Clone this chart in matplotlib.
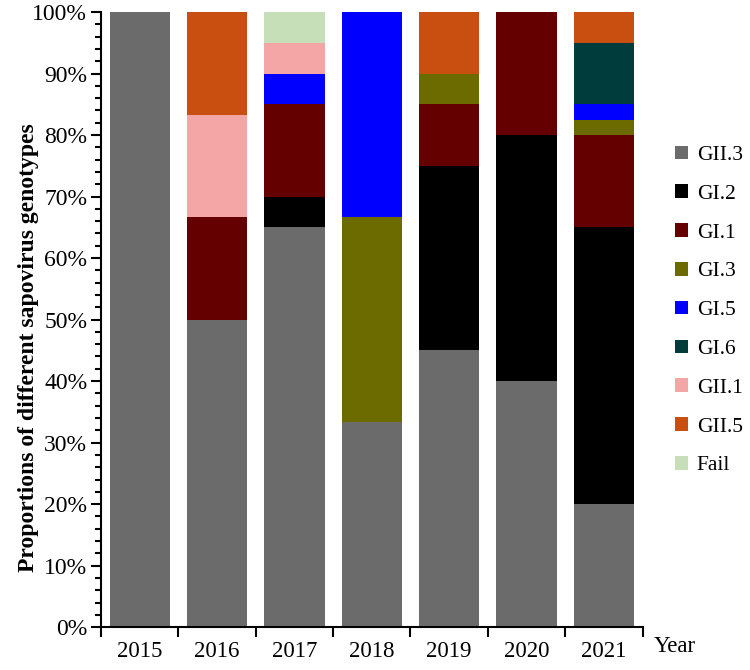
import matplotlib
matplotlib.use("Agg")
import matplotlib.pyplot as plt
from matplotlib.ticker import MultipleLocator, FuncFormatter
from matplotlib.patches import Patch
import numpy as np

plt.rcParams['font.family'] = ['Liberation Serif', 'DejaVu Serif']

years = ["2015", "2016", "2017", "2018", "2019", "2020", "2021"]
genotypes = ["GII.3", "GI.2", "GI.1", "GI.3", "GI.5", "GI.6", "GII.1", "GII.5", "Fail"]
colors = ["#6b6b6b", "#000000", "#640000", "#6b6b00", "#0000ff", "#003c3c", "#f4a6a6", "#c84f10", "#c6dfb8"]

gii3 = [100, 50, 65, 33.33, 45, 40, 20]
gi2 = [0, 0, 5, 0, 30, 40, 45]
gi1 = [0, 16.67, 15, 0, 10, 20, 15]
gi3 = [0, 0, 0, 33.33, 5, 0, 2.5]
gi5 = [0, 0, 5, 33.34, 0, 0, 2.5]
gi6 = [0, 0, 0, 0, 0, 0, 10]
gii1 = [0, 16.67, 5, 0, 0, 0, 0]
gii5 = [0, 16.66, 0, 0, 10, 0, 5]
fail = [0, 0, 5, 0, 0, 0, 0]
series = [gii3, gi2, gi1, gi3, gi5, gi6, gii1, gii5, fail]

fig = plt.figure(figsize=(7.5, 6.7), dpi=100)
ax = fig.add_axes([0.1347, 0.064, 0.722, 0.918])

x = np.arange(len(years))
bottom = np.zeros(len(years))
for vals, c in zip(series, colors):
    v = np.array(vals, dtype=float)
    ax.bar(x, v, bottom=bottom, width=0.78, color=c, edgecolor='none')
    bottom += v

ax.set_xlim(-0.5, len(years) - 0.5)
ax.set_ylim(0, 100)
ax.spines['top'].set_visible(False)
ax.spines['right'].set_visible(False)
ax.spines['left'].set_linewidth(1.5)
ax.spines['bottom'].set_linewidth(1.5)

ax.yaxis.set_major_locator(MultipleLocator(10))
ax.yaxis.set_minor_locator(MultipleLocator(2))
ax.yaxis.set_major_formatter(FuncFormatter(lambda v, p: f"{int(round(v))}%"))
ax.tick_params(axis='y', which='major', length=7, width=1.5, labelsize=17, direction='out', pad=3)
ax.tick_params(axis='y', which='minor', length=4, width=1.5, direction='out')

ax.set_xticks(np.arange(-0.5, len(years), 1.0))
ax.set_xticklabels([])
ax.set_xticks(x, minor=True)
ax.set_xticklabels(years, minor=True)
ax.tick_params(axis='x', which='major', length=7, width=1.5, direction='out')
ax.tick_params(axis='x', which='minor', length=0, labelsize=16.5, pad=10)

ax.set_ylabel("Proportions of different sapovirus genotypes", fontsize=17, fontweight='bold')
ax.yaxis.set_label_coords(-0.115, 0.455)
fig.text(0.90, 0.035, "Year", fontsize=16.5, ha='center', va='center')

handles = [Patch(facecolor=c, edgecolor='none', label=g) for g, c in zip(genotypes, colors)]
leg = fig.legend(handles=handles, loc='upper left', bbox_to_anchor=(0.889, 0.7955),
                 frameon=False, fontsize=15.5, handlelength=0.6, handleheight=0.6,
                 handletextpad=0.4, labelspacing=0.9, borderaxespad=0)

fig.savefig("out.png", dpi=100)
